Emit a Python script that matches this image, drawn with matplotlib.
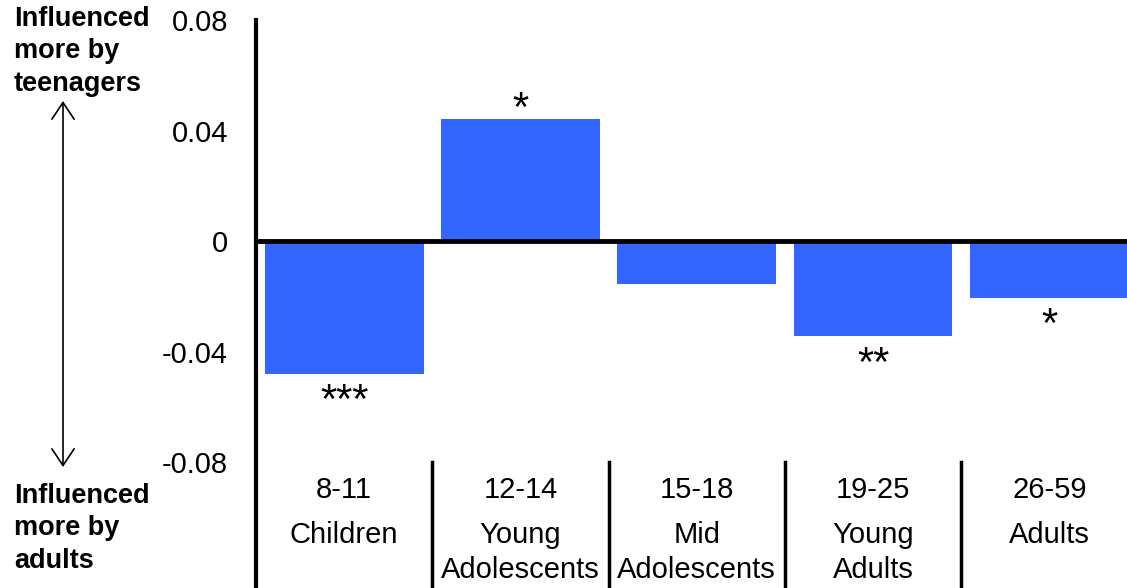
import matplotlib
matplotlib.use("Agg")
import matplotlib.pyplot as plt
from matplotlib.patches import FancyArrowPatch

plt.rcParams['font.family'] = ['Liberation Sans', 'DejaVu Sans']

ages = ["8-11", "12-14", "15-18", "19-25", "26-59"]
groups = ["Children", "Young\nAdolescents", "Mid\nAdolescents", "Young\nAdults", "Adults"]
values = [-0.048, 0.044, -0.0155, -0.0345, -0.0205]
stars = ["***", "*", "", "**", "*"]
yticks = [0.08, 0.04, 0, -0.04, -0.08]
yticklabels = ["0.08", "0.04", "0", "-0.04", "-0.08"]

fig = plt.figure(figsize=(11.27, 5.88), dpi=100)
ax = fig.add_axes([256/1127, 0, 1 - 256/1127, 568/588])
x = list(range(len(values)))
ax.bar(x, values, width=0.9, color='#3366FF', zorder=2)
ax.set_xlim(-0.5, 4.44)
ax.set_ylim(-0.1256, 0.08)

for s in ['top', 'right', 'bottom']:
    ax.spines[s].set_visible(False)
ax.spines['left'].set_linewidth(3)
ax.axhline(0, color='black', lw=3.5, zorder=3)

ax.set_xticks([])
ax.set_yticks(yticks)
ax.set_yticklabels(yticklabels, fontsize=21)
ax.tick_params(axis='y', length=0, pad=20)

for xi in [0.5, 1.5, 2.5, 3.5]:
    ax.plot([xi, xi], [-0.08, -0.1256], color='black', lw=2.5, clip_on=False)

for xi, a, g in zip(x, ages, groups):
    ax.text(xi, -0.0901, a, ha='center', va='center', fontsize=21)
    lines = g.split("\n")
    for k, ln in enumerate(lines):
        ax.text(xi, -0.1064 - k * 0.0127, ln, ha='center', va='center', fontsize=21)

for xi, v, s in zip(x, values, stars):
    if not s:
        continue
    if v > 0:
        ax.annotate(s, (xi, v), xytext=(0, -0.8), textcoords='offset points',
                    ha='center', va='baseline', fontsize=30)
    else:
        ax.annotate(s, (xi, v), xytext=(0, -6), textcoords='offset points',
                    ha='center', va='top', fontsize=30)

fig.text(14/1127, 1 - 6/588, "Influenced\nmore by\nteenagers", ha='left', va='top',
         fontsize=19.5, fontweight='bold', linespacing=1.32)
fig.text(14/1127, 1 - 483/588, "Influenced\nmore by\nadults", ha='left', va='top',
         fontsize=19.5, fontweight='bold', linespacing=1.32)
fig.add_artist(FancyArrowPatch((63/1127, 1 - 101/588), (63/1127, 1 - 467/588),
               transform=fig.transFigure, arrowstyle='<->,head_length=12,head_width=8',
               color='black', lw=1.2, mutation_scale=1, shrinkA=0, shrinkB=0))

fig.savefig("out.png", dpi=100, facecolor='white')
